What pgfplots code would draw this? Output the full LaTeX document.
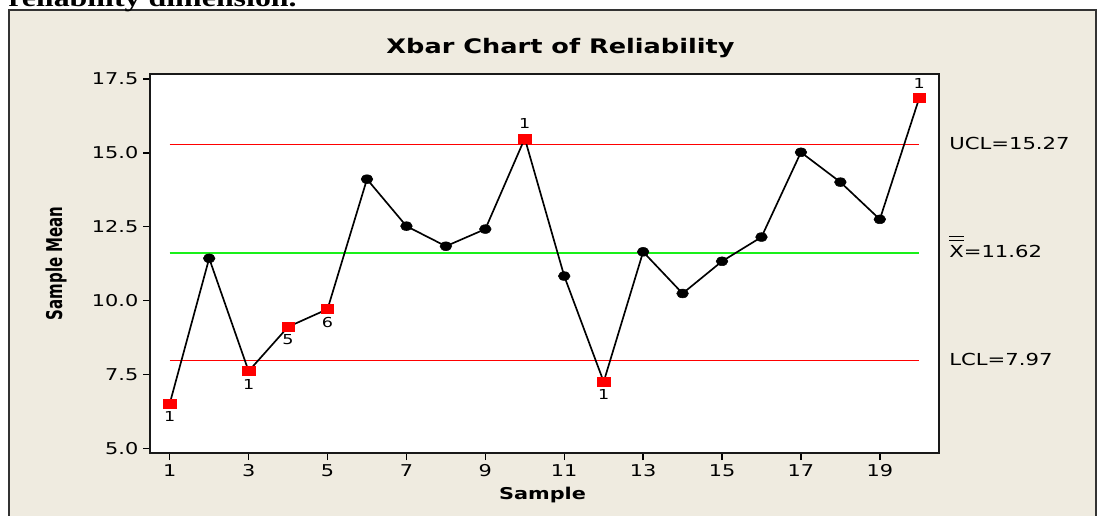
\documentclass[border=0pt]{standalone}
\usepackage{fontspec}
\setmainfont{DejaVu Sans}[FakeStretch=1.28]
\newfontfamily\plainsans{DejaVu Sans}
\newfontfamily\docserif{Liberation Serif}[FakeStretch=1.28]
\usepackage{pgfplots}
\pgfplotsset{compat=1.18}

\definecolor{framebg}{RGB}{239,235,224}
\definecolor{ctrlred}{RGB}{255,0,0}
\definecolor{ctrlgreen}{RGB}{25,240,25}

% X with two bars over it (grand mean)
\newcommand{\dbarX}{\setbox0\hbox{X}\vbox{\hrule width\wd0 height0.7pt\kern2.4pt\hrule width\wd0 height0.7pt\kern2.8pt\box0}}

\begin{document}
\begin{tikzpicture}
  % page furniture, in pixels of the reference (1px = 0.75pt)
  \begin{scope}[x=0.75pt,y=0.75pt]
    \fill[white] (0,0) rectangle (1105,515);
    \fill[framebg] (9,-5) rectangle (1096,505);
    \draw[black!80, line width=1.3pt] (9,-5) -- (9,505) -- (1096,505) -- (1096,-5);
    \node[anchor=base west, inner sep=0, font=\docserif\bfseries\fontsize{18.7}{20}\selectfont]
      at (8,508) {reliability dimension.};
  \end{scope}

  \begin{axis}[
    at={(112.5pt,46.5pt)}, anchor=south west,
    scale only axis, width=591.75pt, height=284.25pt,
    xmin=0.5, xmax=20.5, ymin=4.84, ymax=17.67,
    axis background/.style={fill=white},
    axis line style={black!90, line width=1.3pt},
    xtick={1,3,5,7,9,11,13,15,17,19},
    ytick={5,7.5,10,12.5,15,17.5},
    tick align=outside, xtick pos=bottom, ytick pos=left,
    major tick length=5.25pt,
    tick style={black, line width=1pt},
    yticklabel style={/pgf/number format/.cd, fixed, fixed zerofill, precision=1},
    /pgf/number format/assume math mode=true,
    tick label style={font=\fontsize{12.2}{14}\selectfont},
    clip=false,
  ]
    % control limits
    \addplot[ctrlred, line width=0.9pt] coordinates {(1,15.27) (20,15.27)};
    \addplot[ctrlgreen, line width=1.2pt] coordinates {(1,11.62) (20,11.62)};
    \addplot[ctrlred, line width=0.9pt] coordinates {(1,7.97) (20,7.97)};

    % sample means
    \addplot[black, line width=1.25pt] coordinates {
      (1,6.51) (2,11.43) (3,7.61) (4,9.11) (5,9.71) (6,14.11) (7,12.52)
      (8,11.84) (9,12.42) (10,15.49) (11,10.83) (12,7.25) (13,11.65)
      (14,10.24) (15,11.33) (16,12.15) (17,15.02) (18,14.01) (19,12.75)
      (20,16.86)};
    \addplot[only marks, mark=*, mark size=3.3pt,
      mark options={xscale=1.33, fill=black, draw=black}] coordinates {
      (2,11.43) (6,14.11) (7,12.52) (8,11.84) (9,12.42) (11,10.83)
      (13,11.65) (14,10.24) (15,11.33) (16,12.15) (17,15.02) (18,14.01)
      (19,12.75)};
    \addplot[only marks, mark=square*, mark size=3.4pt,
      mark options={xscale=1.37, fill=ctrlred, draw=ctrlred}] coordinates {
      (1,6.51) (3,7.61) (4,9.11) (5,9.71) (10,15.49) (12,7.25) (20,16.86)};

    % test labels
    \tikzset{tst/.style={font=\fontsize{10.3}{12}\selectfont, inner sep=0}}
    \node[tst, yshift=-9.75pt] at (axis cs:1,6.51) {1};
    \node[tst, yshift=-9.75pt] at (axis cs:3,7.61) {1};
    \node[tst, yshift=-9.75pt] at (axis cs:4,9.11) {5};
    \node[tst, yshift=-9.75pt] at (axis cs:5,9.71) {6};
    \node[tst, yshift=10.9pt] at (axis cs:10,15.49) {1};
    \node[tst, yshift=-9.75pt] at (axis cs:12,7.25) {1};
    \node[tst, yshift=10.9pt] at (axis cs:20,16.86) {1};

    % limit labels
    \tikzset{lim/.style={font=\fontsize{12.4}{14}\selectfont, inner sep=0, xshift=7.5pt}}
    \node[lim, anchor=west, yshift=1.1pt] at (axis cs:20.5,15.27) {UCL=15.27};
    \node[lim, anchor=base west, yshift=-3.3pt] at (axis cs:20.5,11.62) {\dbarX=11.62};
    \node[lim, anchor=west, yshift=0.75pt] at (axis cs:20.5,7.97) {LCL=7.97};
  \end{axis}

  \begin{scope}[x=0.75pt,y=0.75pt]
    \node[anchor=base, font=\bfseries\fontsize{15}{18}\selectfont] at (560.5,461.7) {Xbar Chart of Reliability};
    \node[anchor=base, font=\bfseries\fontsize{12.2}{14}\selectfont] at (542.5,15.7) {Sample};
  \end{scope}
  \begin{scope}[shift={(46.5pt,188.8pt)}]
    \node[xscale=1.45, rotate=90, anchor=base, inner sep=0,
      font=\plainsans\bfseries\fontsize{11.25}{13}\selectfont] at (0,0) {Sample Mean};
  \end{scope}

  \pgfresetboundingbox
  \path[use as bounding box] (0,0) rectangle (828.75pt,386.25pt);
\end{tikzpicture}
\end{document}
